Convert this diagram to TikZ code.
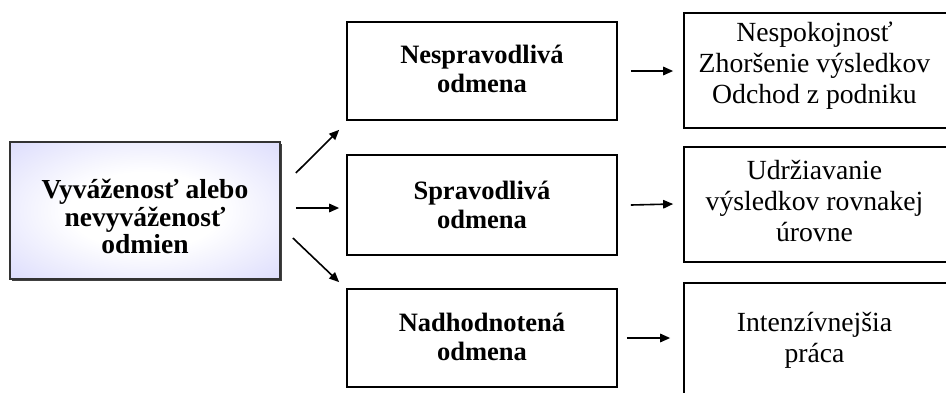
\documentclass[tikz,border=0pt]{standalone}
\usepackage{fontspec}
\setmainfont{Liberation Serif}
\usetikzlibrary{arrows.meta}
\definecolor{lavender}{RGB}{198,198,250}
\definecolor{lavenderdeep}{RGB}{188,188,246}
\pgfdeclareradialshading{softglow}{\pgfpoint{0bp}{0bp}}{%
  color(0bp)=(white); color(14bp)=(white);
  color(50bp)=(lavender); color(72bp)=(lavenderdeep)}
\begin{document}
\begin{tikzpicture}[x=1pt,y=-1pt,
  box/.style={draw=black, line width=1.7pt, rectangle, inner sep=0pt},
  sidebox/.style={draw=black!80, line width=1.7pt, rectangle, inner sep=0pt, shading=softglow},
  boldtxt/.style={align=center, font=\fontsize{26.5}{29.5}\selectfont\bfseries, inner sep=0pt},
  sidetxt/.style={align=center, font=\fontsize{27.5}{27.5}\selectfont\bfseries, inner sep=0pt},
  plaintxt/.style={align=center, font=\fontsize{27.7}{31}\selectfont, inner sep=0pt},
  arr/.style={line width=1.6pt, -{Triangle[length=10pt,width=8.5pt]}}]
\useasboundingbox (0,0) rectangle (946,392);

% left source box with a thin drop shadow
\fill[black!75] (11.5,143.5) rectangle (281.5,280.5);
\node[sidebox, minimum width=270pt, minimum height=137pt] (L) at (145,210.5) {};
\node[sidetxt, yshift=-6pt] (Lt) at (L) {Vyváženosť alebo\\nevyváženosť\\odmien};

% middle column
\node[box, minimum width=270pt, minimum height=98pt]  (M1) at (482,71) {};
\node[box, minimum width=270pt, minimum height=100pt] (M2) at (482,205) {};
\node[box, minimum width=270pt, minimum height=98pt]  (M3) at (482,338) {};
\node[boldtxt, yshift=2pt] (M1t) at (M1) {Nespravodlivá\\odmena};
\node[boldtxt] (M2t) at (M2) {Spravodlivá\\odmena};
\node[boldtxt, yshift=1pt] (M3t) at (M3) {Nadhodnotená\\odmena};

% right column (runs past the page edge)
\node[box, minimum width=266pt, minimum height=115pt] (R1) at (817,70.5) {};
\node[box, minimum width=266pt, minimum height=115pt] (R2) at (817,204.5) {};
\node[box, minimum width=266pt, minimum height=115pt] (R3) at (817,340.5) {};
\node[plaintxt, yshift=5pt] (R1t) at (814.5,70.5) {Nespokojnosť\\Zhoršenie výsledkov\\Odchod z podniku};
\node[plaintxt, yshift=4pt] (R2t) at (814.5,204.5) {Udržiavanie\\výsledkov rovnakej\\úrovne};
\node[plaintxt] (R3t) at (814.5,340.5) {Intenzívnejšia\\práca};

% connectors
\draw[arr] ([shift={(15,-37.5)}]L.east) -- ([shift={(-7,9)}]M1.south west);
\draw[arr] ([shift={(15,-2.5)}]L.east) -- ([shift={(-7,3)}]M2.west);
\draw[arr] ([shift={(12,27.5)}]L.east) -- ([shift={(-7,-6)}]M3.north west);

\draw[arr] ([xshift=13pt]M1.east) -- ([shift={(-10,0.5)}]R1.west);
\draw[arr] ([xshift=13pt]M2.east) -- ([shift={(-10,-0.5)}]R2.west);
\draw[arr] ([xshift=9pt]M3.east) -- ([shift={(-13,-2.5)}]R3.west);
\end{tikzpicture}
\end{document}
